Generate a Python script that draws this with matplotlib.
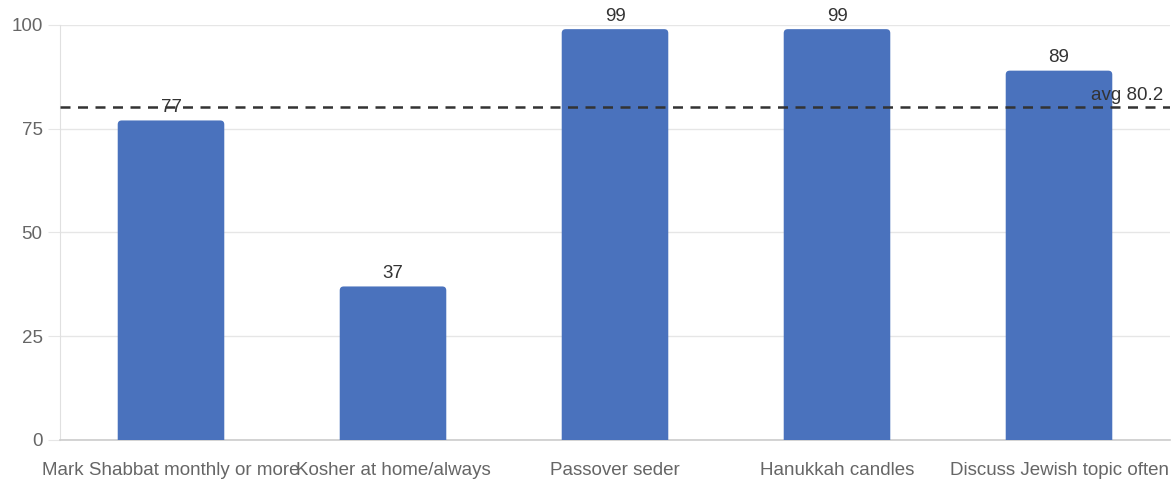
import matplotlib
matplotlib.use("Agg")
import matplotlib.pyplot as plt
from matplotlib.patches import FancyBboxPatch
import numpy as np

categories = [
    "Mark Shabbat monthly or more",
    "Kosher at home/always",
    "Passover seder",
    "Hanukkah candles",
    "Discuss Jewish topic often",
]
values = [77, 37, 99, 99, 89]
avg_value = 80.2
y_ticks = [0, 25, 50, 75, 100]

plt.rcParams["font.family"] = ["Liberation Sans", "DejaVu Sans"]
FS = 13.5

fig = plt.figure(figsize=(11.76, 4.83), dpi=100)
ax = fig.add_axes([60 / 1176, 43 / 483, 1110 / 1176, 415 / 483])

x = np.arange(len(categories))
bars = ax.bar(x, values, width=0.48, color="#4a72bd", zorder=3)

# swap plain rectangles for ones with slightly rounded tops
px_per_x = 1110 / len(categories)
px_per_y = 415 / 100
for b in bars:
    b.set_visible(False)
    rounded = FancyBboxPatch(
        (b.get_x(), -3), b.get_width(), b.get_height() + 3,
        boxstyle="round,pad=0,rounding_size=%f" % (4 / px_per_x),
        mutation_aspect=px_per_x / px_per_y,
        facecolor="#4a72bd", edgecolor="none", zorder=3,
    )
    ax.add_patch(rounded)

for xi, v in zip(x, values):
    ax.annotate(str(v), (xi, v), textcoords="offset points", xytext=(0, 3),
                ha="center", va="bottom", fontsize=FS, color="#333333", zorder=5)

ax.axhline(avg_value, color="#333333", linestyle=(0, (4, 3)), linewidth=1.8, zorder=4)
ax.text(len(categories) - 0.5 - 0.03, avg_value + 0.8, f"avg {avg_value}",
        ha="right", va="bottom", fontsize=FS, color="#333333", zorder=5)

ax.set_xlim(-0.5, len(categories) - 0.5)
ax.set_ylim(0, 100)
ax.set_yticks(y_ticks)
ax.set_xticks(x)
ax.set_xticklabels(categories)
ax.grid(axis="y", color="#e6e6e6", linewidth=1, zorder=0)
ax.tick_params(axis="y", length=8.5, color="#e6e6e6", labelcolor="#666666",
               labelsize=FS, pad=4)
ax.tick_params(axis="x", length=0, labelcolor="#666666", labelsize=FS, pad=16)

for side in ["top", "right"]:
    ax.spines[side].set_visible(False)
ax.spines["left"].set_color("#e0e0e0")
ax.spines["bottom"].set_color("#cccccc")
ax.spines["bottom"].set_linewidth(1.2)

fig.savefig("out.png", dpi=100)
